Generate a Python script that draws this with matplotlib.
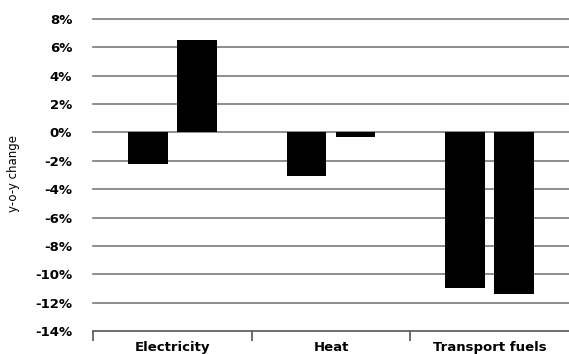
import matplotlib
matplotlib.use("Agg")
import matplotlib.pyplot as plt
import numpy as np
from matplotlib.ticker import FixedLocator

categories = ["Electricity", "Heat", "Transport fuels"]
series_a = [-2.2, -3.1, -10.95]
series_b = [6.55, -0.35, -11.4]
yticks = [8, 6, 4, 2, 0, -2, -4, -6, -8, -10, -12, -14]
ytick_labels = [f"{v}%" for v in yticks]

W, H = 569, 354
fig = plt.figure(figsize=(W / 100, H / 100), dpi=100)
ax = fig.add_axes([93 / W, 1 - 331 / H, 476 / W, (331 - 19) / H])

x = np.arange(len(categories))
bw = 0.25
off = 0.154
ax.bar(x - off, series_a, width=bw, color="black", zorder=3)
ax.bar(x + off, series_b, width=bw, color="black", zorder=3)

ax.set_xlim(-0.5, 2.5)
ax.set_ylim(-14, 8)
ax.set_yticks(yticks)
ax.set_yticklabels(ytick_labels, fontsize=9.5, fontweight="bold")
for g in yticks[:-1]:
    ax.axhline(g, color="#7a7a7a", lw=1.2, zorder=1, clip_on=False)

ax.tick_params(axis="y", length=0, pad=15)
ax.set_xticks(x)
ax.set_xticklabels([""] * len(categories))
ax.tick_params(axis="x", which="major", length=0)
ax.xaxis.set_minor_locator(FixedLocator([-0.5, 0.5, 1.5]))
ax.tick_params(axis="x", which="minor", length=7, width=1.2, color="#555555")

# category labels placed at data x, fixed pixel baseline
trans = matplotlib.transforms.blended_transform_factory(ax.transData, fig.transFigure)
for xi, cat in zip(x, categories):
    ax.text(xi, 1 - 351 / H, cat, transform=trans, ha="center", va="baseline",
            fontsize=9.5, fontweight="bold", clip_on=False)

for s in ["top", "right", "left"]:
    ax.spines[s].set_visible(False)
ax.spines["bottom"].set_color("#555555")
ax.spines["bottom"].set_linewidth(1.2)

fig.text(13 / W, 1 - 174 / H, "y-o-y change", rotation=90, ha="center", va="center", fontsize=8.5)

fig.savefig("out.png", dpi=100)
